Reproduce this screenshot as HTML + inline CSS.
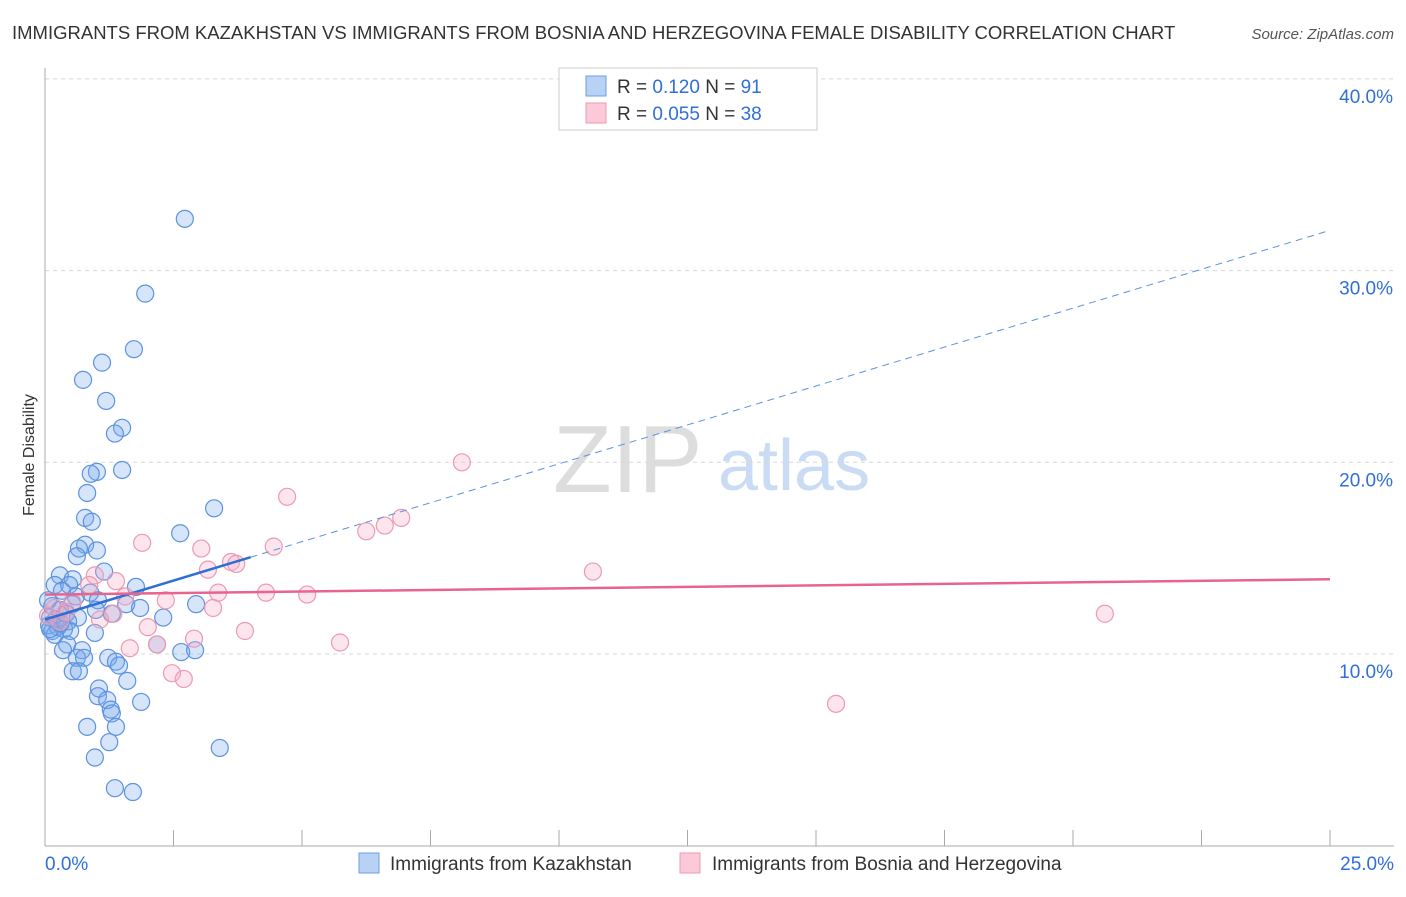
<!DOCTYPE html>
<html><head><meta charset="utf-8"><style>
body{margin:0;background:#fff;font-family:"Liberation Sans",sans-serif;}
svg text{font-family:"Liberation Sans",sans-serif;}
</style></head><body>
<svg id="chart" width="1406" height="892" viewBox="0 0 1406 892">
<text x="12" y="39" font-size="18.5" fill="#333">IMMIGRANTS FROM KAZAKHSTAN VS IMMIGRANTS FROM BOSNIA AND HERZEGOVINA FEMALE DISABILITY CORRELATION CHART</text>
<text x="1394" y="39" font-size="15" fill="#555" font-style="italic" text-anchor="end">Source: ZipAtlas.com</text>
<text x="0" y="0" font-size="16" fill="#333" transform="translate(34,455) rotate(-90)" text-anchor="middle">Female Disability</text>
<g><text x="553" y="492" font-size="96" fill="#ddd" font-family="Liberation Serif,serif">ZIP</text><text x="718" y="490" font-size="72" fill="#c9dcf3">atlas</text></g>
<g id="grid"></g><g id="axes"></g><g id="marks"></g>
<g>
<rect x="559" y="68" width="258" height="62" fill="#fff" stroke="#ccc"/>
<rect x="586" y="76" width="20" height="20" fill="#b7d2f5" stroke="#6d9ee6"/>
<rect x="586" y="103" width="20" height="20" fill="#fbc9d8" stroke="#ec9ab3"/>
<text x="617" y="93" font-size="19" fill="#333">R = <tspan fill="#2f6fd6">0.120</tspan>   N = <tspan fill="#2f6fd6">91</tspan></text>
<text x="617" y="120" font-size="19" fill="#333">R = <tspan fill="#2f6fd6">0.055</tspan>   N = <tspan fill="#2f6fd6">38</tspan></text>
</g>
<g>
<rect x="359" y="853" width="20" height="20" fill="#b7d2f5" stroke="#6d9ee6"/>
<text x="390" y="870" font-size="19" fill="#333">Immigrants from Kazakhstan</text>
<rect x="680" y="853" width="20" height="20" fill="#fbc9d8" stroke="#ec9ab3"/>
<text x="712" y="870" font-size="19" fill="#333">Immigrants from Bosnia and Herzegovina</text>
</g>
</svg>
<script>
const yTicks=[10,20,30,40];
const yTickLabels=["10.0%","20.0%","30.0%","40.0%"];
const xTickLabels=["0.0%","25.0%"];
const blueX=[2.72,1.95,1.73,1.11,0.74,1.19,1.50,1.36,1.50,1.01,0.89,0.82,3.29,0.78,0.91,2.63,0.78,0.66,1.01,0.62,1.15,0.29,0.54,0.19,0.47,1.77,0.33,0.88,0.60,1.03,1.58,2.94,1.85,0.53,0.14,0.29,0.99,0.41,1.30,0.10,0.64,2.30,0.21,0.45,0.08,0.25,0.37,0.49,0.14,0.97,0.43,0.72,0.35,2.18,2.65,2.92,0.62,0.76,1.23,1.38,1.44,0.54,0.66,1.60,1.05,1.03,1.21,1.87,1.28,1.30,0.82,1.38,1.25,3.40,0.97,1.36,1.71,0.06,0.19,0.10,0.30];
const blueY=[32.7,28.8,25.9,25.2,24.3,23.2,21.8,21.5,19.6,19.5,19.4,18.4,17.6,17.1,16.9,16.3,15.7,15.5,15.4,15.1,14.3,14.1,13.9,13.6,13.6,13.5,13.3,13.2,13.0,12.8,12.6,12.6,12.4,12.6,12.5,12.3,12.3,12.1,12.1,11.9,11.9,11.9,11.8,11.7,11.5,11.4,11.3,11.2,11.2,11.1,10.5,10.2,10.2,10.5,10.1,10.2,9.8,9.8,9.8,9.6,9.4,9.1,9.1,8.6,8.2,7.8,7.6,7.5,7.1,6.9,6.2,6.2,5.4,5.1,4.6,3.0,2.8,12.8,11.0,11.3,11.6];
const pinkX=[8.11,4.71,6.93,6.61,6.25,1.89,3.04,4.45,3.62,3.72,3.17,10.66,0.97,1.38,0.86,3.37,4.30,5.10,1.56,2.35,0.53,0.19,3.27,20.62,1.33,2.00,3.89,1.07,2.90,5.74,2.18,1.65,2.47,2.70,15.39,0.29,0.06,0.41];
const pinkY=[20.0,18.2,17.1,16.7,16.4,15.8,15.5,15.6,14.8,14.7,14.4,14.3,14.1,13.8,13.6,13.2,13.2,13.1,13.0,12.8,12.7,12.4,12.4,12.1,12.1,11.4,11.2,11.8,10.8,10.6,10.5,10.3,9.0,8.7,7.4,11.7,12.0,12.2];
const blueTrend=[11.8,32.1]; // y at x=0 and x=25
const pinkTrend=[13.1,13.9];
const X0=45,X1=1330,Y0=845.7,PY=19.17;
const sx=v=>X0+(X1-X0)*v/25, sy=v=>Y0-v*PY;
const NS="http://www.w3.org/2000/svg";
function mk(parent,tag,attrs){const e=document.createElementNS(NS,tag);for(const k in attrs)e.setAttribute(k,attrs[k]);document.getElementById(parent).appendChild(e);return e;}
yTicks.forEach((t,i)=>{
 const g=mk("grid","line",{x1:45,x2:1394,y1:sy(t),y2:sy(t),stroke:"#d8d8d8","stroke-dasharray":"4,4"});
 
 
 const l=mk("grid","text",{x:1393,y:sy(t)+24,"font-size":19,fill:"#2f6fd6","text-anchor":"end"});
 l.textContent=yTickLabels[i];
 
 
});
let a=mk("axes","line",{x1:45,x2:45,y1:68,y2:846,stroke:"#aaa"});


a=mk("axes","line",{x1:45,x2:1394,y1:846,y2:846,stroke:"#aaa"});


for(let i=0;i<=10;i++){const t=mk("axes","line",{x1:sx(i*2.5),x2:sx(i*2.5),y1:830,y2:846,stroke:"#aaa"});
 
 }
[[0,"start",45],[1,"end",1394]].forEach(([i,anc,x])=>{const l=mk("axes","text",{x:x,y:870,"font-size":19,fill:"#2f6fd6","text-anchor":anc});l.textContent=xTickLabels[i];
 
 });
blueX.forEach((v,i)=>{const c=mk("marks","circle",{cx:sx(v),cy:sy(blueY[i]),r:8.5,fill:"rgba(120,170,235,0.3)",stroke:"#5c92e0","stroke-width":1.2});
 
 });
pinkX.forEach((v,i)=>{const c=mk("marks","circle",{cx:sx(v),cy:sy(pinkY[i]),r:8.5,fill:"rgba(245,170,195,0.3)",stroke:"#ec9ab3","stroke-width":1.2});
 
 });
const by=x=>blueTrend[0]+(blueTrend[1]-blueTrend[0])*x/25;
let t=mk("marks","line",{x1:sx(0),y1:sy(by(0)),x2:sx(4),y2:sy(by(4)),stroke:"#2d6fd5","stroke-width":2.5});


t=mk("marks","line",{x1:sx(4),y1:sy(by(4)),x2:sx(25),y2:sy(by(25)),stroke:"#5c92e0","stroke-width":1,"stroke-dasharray":"7,5"});


t=mk("marks","line",{x1:sx(0),y1:sy(pinkTrend[0]),x2:sx(25),y2:sy(pinkTrend[1]),stroke:"#e8648f","stroke-width":2.5});


</script>
</body></html>
